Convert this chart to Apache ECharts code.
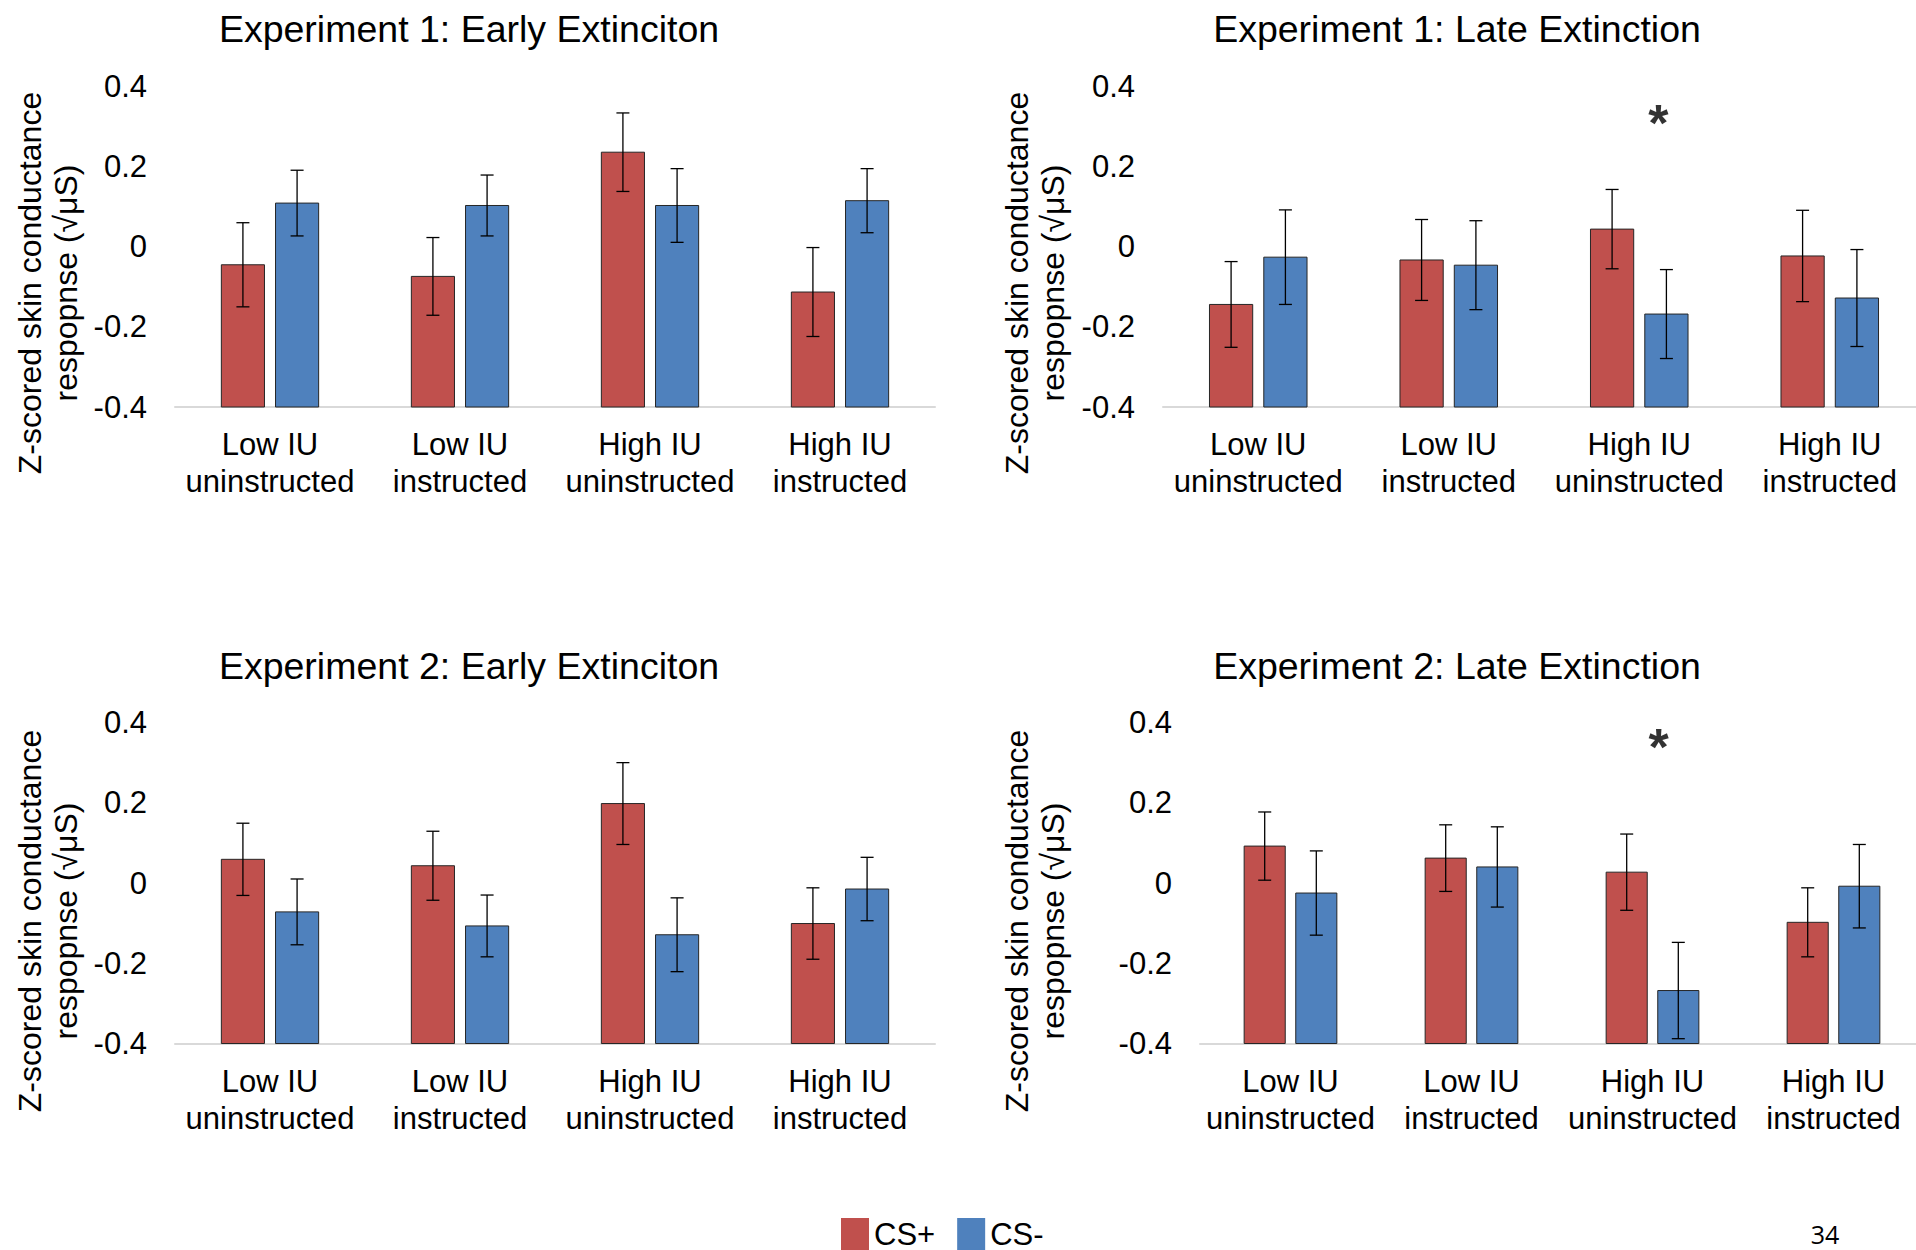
<!DOCTYPE html>
<html>
<head>
<meta charset="utf-8">
<style>
  html, body { margin: 0; padding: 0; background: #fff; }
  #chart { width: 1916px; height: 1250px; }
</style>
<script src="https://cdn.jsdelivr.net/npm/echarts@6/dist/echarts.min.js"></script>
</head>
<body>
<div id="chart"></div>
<script>
const categories = ['Low IU\nuninstructed', 'Low IU\ninstructed', 'High IU\nuninstructed', 'High IU\ninstructed'];
const Y_MIN = -0.4, Y_MAX = 0.4, Y_STEP = 0.2;

// Experiment 1: early extinction
const exp1EarlyPlus = [-0.045, -0.074, 0.236, -0.113];
const exp1EarlyPlusErr = [0.105, 0.097, 0.098, 0.111];
const exp1EarlyMinus = [0.109, 0.103, 0.103, 0.115];
const exp1EarlyMinusErr = [0.082, 0.076, 0.092, 0.080];

// Experiment 1: late extinction
const exp1LatePlus = [-0.144, -0.033, 0.044, -0.023];
const exp1LatePlusErr = [0.107, 0.101, 0.099, 0.114];
const exp1LateMinus = [-0.026, -0.046, -0.168, -0.128];
const exp1LateMinusErr = [0.118, 0.111, 0.111, 0.121];

// Experiment 2: early extinction
const exp2EarlyPlus = [0.059, 0.043, 0.198, -0.101];
const exp2EarlyPlusErr = [0.090, 0.086, 0.102, 0.089];
const exp2EarlyMinus = [-0.072, -0.107, -0.129, -0.015];
const exp2EarlyMinusErr = [0.082, 0.077, 0.092, 0.079];

// Experiment 2: late extinction
const exp2LatePlus = [0.092, 0.062, 0.027, -0.098];
const exp2LatePlusErr = [0.085, 0.083, 0.095, 0.086];
const exp2LateMinus = [-0.025, 0.040, -0.268, -0.008];
const exp2LateMinusErr = [0.105, 0.100, 0.120, 0.104];

// significance marker: category index and height
const exp1LateStar = [2, 0.31];
const exp2LateStar = [2, 0.338];

const FONT = 'Liberation Sans, Arial, sans-serif';
const RED = '#C0504D', BLUE = '#4F81BD';
const BAR_FRAC = 0.227, GAP_FRAC = 0.256;
const yName = 'Z-scored skin conductance\nrespopnse (\u221A\u03BCS)';

const panels = [
  { title: 'Experiment 1: Early Extinciton', plus: exp1EarlyPlus, plusErr: exp1EarlyPlusErr, minus: exp1EarlyMinus, minusErr: exp1EarlyMinusErr, star: null },
  { title: 'Experiment 1: Late Extinction', plus: exp1LatePlus, plusErr: exp1LatePlusErr, minus: exp1LateMinus, minusErr: exp1LateMinusErr, star: exp1LateStar },
  { title: 'Experiment 2: Early Extinciton', plus: exp2EarlyPlus, plusErr: exp2EarlyPlusErr, minus: exp2EarlyMinus, minusErr: exp2EarlyMinusErr, star: null },
  { title: 'Experiment 2: Late Extinction', plus: exp2LatePlus, plusErr: exp2LatePlusErr, minus: exp2LateMinus, minusErr: exp2LateMinusErr, star: exp2LateStar }
];

const layout = [
  { left: 175, top: 86.5, width: 760, height: 320.5, titleX: 469, titleY: 29, nameX: 48, nameY: 283, starDx: 0 },
  { left: 1163, top: 86.5, width: 762, height: 320.5, titleX: 1457, titleY: 29, nameX: 1035, nameY: 283, starDx: 19 },
  { left: 175, top: 722.5, width: 760, height: 321, titleX: 469, titleY: 666, nameX: 48, nameY: 921, starDx: 0 },
  { left: 1200, top: 722.5, width: 724, height: 321, titleX: 1457, titleY: 666, nameX: 1035, nameY: 921, starDx: 6 }
];

// bar from the axis floor up to the mean, plus its error bar
function barRenderer(side) {
  return function (params, api) {
    const idx = api.value(0), mean = api.value(1), err = api.value(2);
    const band = api.size([1, 0])[0];
    const w = band * BAR_FRAC;
    const p = api.coord([idx, mean]);
    const cx = p[0] + side * w * (1 + GAP_FRAC) / 2;
    const base = api.coord([idx, Y_MIN])[1];
    const hi = api.coord([idx, mean + err])[1];
    const lo = api.coord([idx, mean - err])[1];
    const cap = 6.5;
    const errStyle = { stroke: '#000', lineWidth: 1.3 };
    return {
      type: 'group',
      children: [
        { type: 'rect', shape: { x: cx - w / 2, y: p[1], width: w, height: base - p[1] },
          style: { fill: api.visual('color'), stroke: '#262626', lineWidth: 1 } },
        { type: 'line', shape: { x1: cx, y1: hi, x2: cx, y2: lo }, style: errStyle },
        { type: 'line', shape: { x1: cx - cap, y1: hi, x2: cx + cap, y2: hi }, style: errStyle },
        { type: 'line', shape: { x1: cx - cap, y1: lo, x2: cx + cap, y2: lo }, style: errStyle }
      ]
    };
  };
}

const grids = [], xAxes = [], yAxes = [], series = [], titles = [], graphics = [];

panels.forEach((pn, i) => {
  const L = layout[i];
  grids.push({ left: L.left, top: L.top, width: L.width, height: L.height, outerBoundsMode: 'none' });
  xAxes.push({
    type: 'category', gridIndex: i, data: categories,
    axisLine: { onZero: false, lineStyle: { color: '#D9D9D9', width: 2 } },
    axisTick: { show: false },
    axisLabel: { interval: 0, fontSize: 31, lineHeight: 37, margin: 19, color: '#000', fontFamily: FONT }
  });
  yAxes.push({
    type: 'value', gridIndex: i, min: Y_MIN, max: Y_MAX, interval: Y_STEP,
    axisLine: { show: false }, axisTick: { show: false }, splitLine: { show: false },
    axisLabel: { fontSize: 31, margin: 28, color: '#000', fontFamily: FONT,
      formatter: v => String(Math.round(v * 10) / 10) }
  });
  series.push({
    name: 'CS+', type: 'custom', xAxisIndex: i, yAxisIndex: i, z: 2,
    itemStyle: { color: RED }, renderItem: barRenderer(-1), encode: { x: 0, y: 1 },
    data: pn.plus.map((v, k) => [k, v, pn.plusErr[k]])
  });
  series.push({
    name: 'CS-', type: 'custom', xAxisIndex: i, yAxisIndex: i, z: 2,
    itemStyle: { color: BLUE }, renderItem: barRenderer(1), encode: { x: 0, y: 1 },
    data: pn.minus.map((v, k) => [k, v, pn.minusErr[k]])
  });
  if (pn.star) {
    series.push({
      type: 'scatter', xAxisIndex: i, yAxisIndex: i, silent: true, z: 5,
      symbolSize: 1, itemStyle: { color: 'transparent' },
      label: { show: true, formatter: '*', position: 'inside', offset: [L.starDx, 0],
        fontSize: 52, fontWeight: 'bold', color: '#000', fontFamily: FONT },
      data: [pn.star]
    });
  }
  titles.push({
    text: pn.title, left: L.titleX, top: L.titleY, padding: 0,
    textAlign: 'center', textVerticalAlign: 'middle',
    textStyle: { fontSize: 37.5, fontWeight: 'normal', color: '#000', fontFamily: FONT }
  });
  graphics.push({
    type: 'text', x: L.nameX, y: L.nameY, rotation: Math.PI / 2,
    style: { text: yName, fontSize: 32, lineHeight: 36, align: 'center', verticalAlign: 'middle',
      fill: '#000', fontFamily: FONT }
  });
});

graphics.push({
  type: 'text', x: 1825, y: 1234,
  style: { text: '34', fontSize: 25, lineHeight: 25, align: 'center', verticalAlign: 'middle', fill: '#000',
    fontFamily: 'Open Sans, sans-serif' }
});

const chart = echarts.init(document.getElementById('chart'), null, { renderer: 'svg' });
chart.setOption({
  animation: false,
  backgroundColor: '#fff',
  textStyle: { fontFamily: FONT },
  title: titles,
  grid: grids,
  xAxis: xAxes,
  yAxis: yAxes,
  legend: {
    data: ['CS+', 'CS-'], left: 841, top: 1218, padding: 0,
    icon: 'rect', itemWidth: 28, itemHeight: 32, itemGap: 22,
    itemStyle: { borderWidth: 0 },
    textStyle: { fontSize: 31, lineHeight: 31, color: '#000', fontFamily: FONT }
  },
  graphic: graphics,
  series: series
});
</script>
</body>
</html>
